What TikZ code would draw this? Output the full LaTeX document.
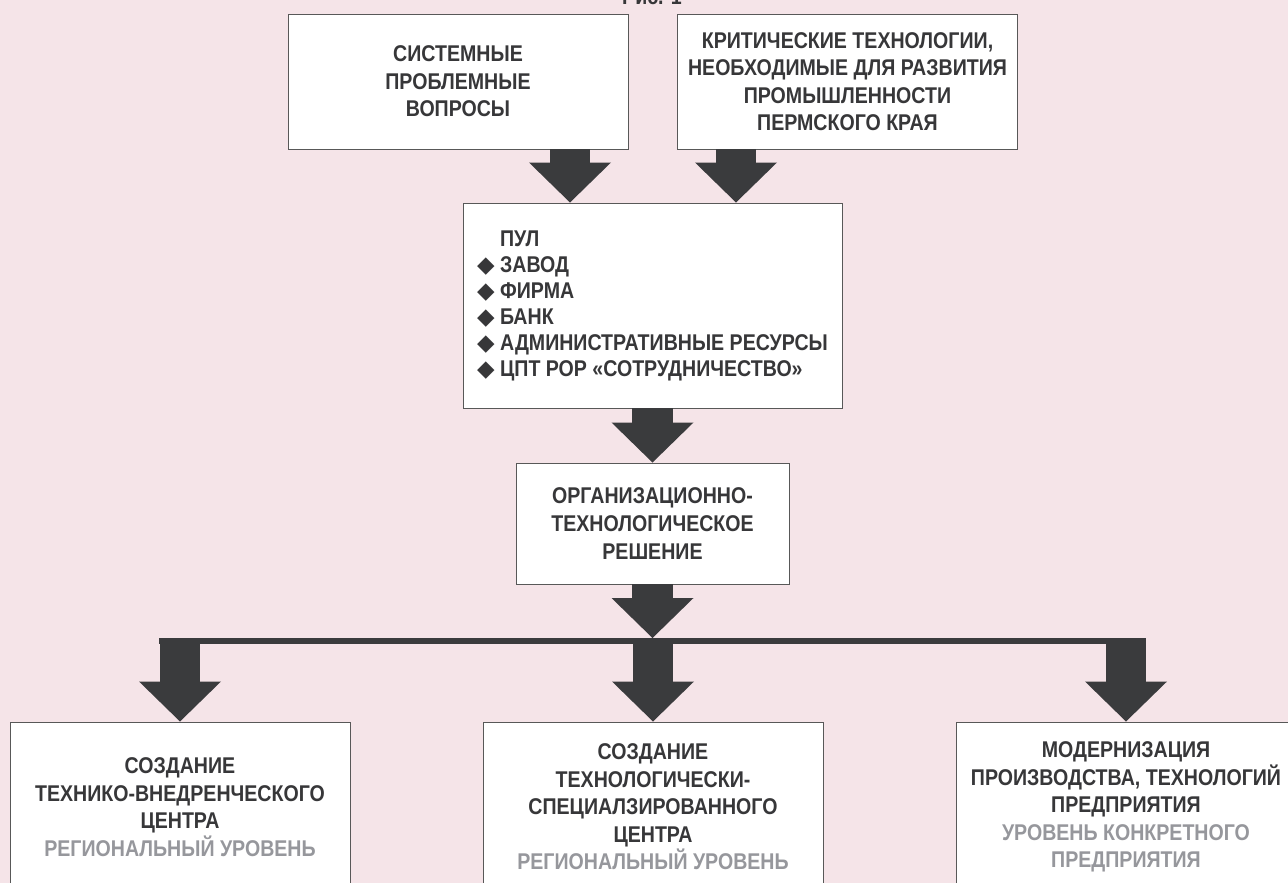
\documentclass[tikz,border=0pt]{standalone}
\usepackage{fontspec}
\setmainfont{Liberation Sans}[FakeStretch=0.86]
\newfontfamily\symfont{DejaVu Sans}
\usetikzlibrary{arrows.meta}
\definecolor{bgpink}{RGB}{245,228,232}
\definecolor{ink}{RGB}{58,59,61}
\definecolor{frame}{RGB}{88,88,88}
\definecolor{txt}{RGB}{55,55,57}
\definecolor{lvl}{RGB}{150,151,156}
\newcommand{\dmd}{{\symfont ◆}\ }
\begin{document}
\begin{tikzpicture}[font={\fontsize{16.2}{19.6}\selectfont\bfseries}, text=txt]
\tikzset{
	box/.style={draw=frame, line width=0.7pt, fill=white, align=center, inner sep=2pt},
	wide/.style={box, minimum width=8.5cm, minimum height=3.375cm},
	goal/.style={box, minimum width=8.5cm, minimum height=4.25cm},
	fat/.style={draw=ink, line width=1.02cm, -{Triangle[width=2.05cm, length=1cm, line width=0pt]}}
}

% page and background
\useasboundingbox (0,0) rectangle (32.2,-22.075);
\fill[bgpink] (0,0) rectangle (32.2,-22.075);

\node[anchor=base] (caption) at (16.3,-0.1) {Рис. 1};

% Sources
\node[wide] (sys) at (11.45,-2.0375)
{СИСТЕМНЫЕ\\ПРОБЛЕМНЫЕ\\ВОПРОСЫ};

\node[wide] (crit) at (21.1875,-2.0375)
{КРИТИЧЕСКИЕ ТЕХНОЛОГИИ,\\
НЕОБХОДИМЫЕ ДЛЯ РАЗВИТИЯ\\
ПРОМЫШЛЕННОСТИ\\
ПЕРМСКОГО КРАЯ};

\node[box, align=left, minimum width=9.475cm, minimum height=5.125cm, font={\fontsize{16.2}{18.5}\selectfont\bfseries}] (pool) at (16.3125,-7.6375)
{\phantom{\dmd}ПУЛ\\
\dmd ЗАВОД\\
\dmd ФИРМА\\
\dmd БАНК\\
\dmd АДМИНИСТРАТИВНЫЕ РЕСУРСЫ\\
\dmd ЦПТ РОР «СОТРУДНИЧЕСТВО»};

\node[box, minimum width=6.825cm, minimum height=3.025cm] (org) at (16.3125,-13.0875)
{ОРГАНИЗАЦИОННО-\\ТЕХНОЛОГИЧЕСКОЕ\\РЕШЕНИЕ};

% Three outcomes
\node[goal] (centre1) at (4.5,-20.175)
{СОЗДАНИЕ\\
ТЕХНИКО-ВНЕДРЕНЧЕСКОГО\\
ЦЕНТРА\\
\textcolor{lvl}{РЕГИОНАЛЬНЫЙ УРОВЕНЬ}};

\node[goal] (centre2) at (16.325,-20.175)
{СОЗДАНИЕ\\
ТЕХНОЛОГИЧЕСКИ-\\
СПЕЦИАЛЗИРОВАННОГО\\
ЦЕНТРА\\
\textcolor{lvl}{РЕГИОНАЛЬНЫЙ УРОВЕНЬ}};

\node[goal] (plant) at (28.15,-20.175)
{МОДЕРНИЗАЦИЯ\\
ПРОИЗВОДСТВА, ТЕХНОЛОГИЙ\\
ПРЕДПРИЯТИЯ\\
\textcolor{lvl}{УРОВЕНЬ КОНКРЕТНОГО}\\
\textcolor{lvl}{ПРЕДПРИЯТИЯ}};

% Block arrows
\coordinate (xL) at (14.25,0);
\coordinate (xR) at (18.4,0);
\coordinate (fork) at (16.3125,-15.95);
\coordinate (forkL) at (3.975,-16.025);
\coordinate (forkR) at (28.65,-16.025);

\draw[fat] (sys.south -| xL) -- (pool.north -| xL);
\draw[fat] (crit.south -| xR) -- (pool.north -| xR);
\draw[fat] (pool.south) -- (org.north);
\draw[fat] (org.south) -- (fork);
\draw[ink, line width=0.15cm] (forkL) -- (forkR);
\draw[fat] (centre1.north |- fork) -- (centre1.north);
\draw[fat] (centre2.north |- fork) -- (centre2.north);
\draw[fat] (plant.north |- fork) -- (plant.north);

\end{tikzpicture}
\end{document}
